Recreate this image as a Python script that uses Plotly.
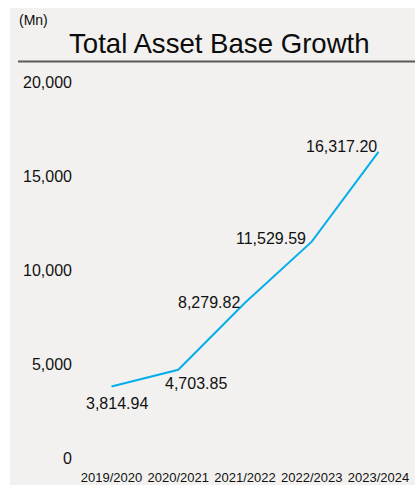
import plotly.graph_objects as go

# Financial years and total asset base (Mn)
years = ["2019/2020", "2020/2021", "2021/2022", "2022/2023", "2023/2024"]
assets = [3814.94, 4703.85, 8279.82, 11529.59, 16317.20]
value_labels = ["3,814.94", "4,703.85", "8,279.82", "11,529.59", "16,317.20"]
y_ticks = [0, 5000, 10000, 15000, 20000]
y_tick_text = ["0", "5,000", "10,000", "15,000", "20,000"]

# Per-label pixel offsets from their points
label_dx = [5, 18, -36, -41, -37]
label_dy = [-17, -14, 0, 3, 5]

W, H = 415, 486
L, R, T, B = 80, 10, 70, 28
PW, PH = W - L - R, H - T - B

def px(x):
    return (x - L) / PW

def py(y):
    return (H - B - y) / PH

FONT = "Liberation Sans, Arial, sans-serif"
INK = "#111111"
BLUE = "#06aeec"

fig = go.Figure()
fig.add_trace(go.Scatter(
    x=list(range(len(years))), y=assets, mode="lines",
    line=dict(color=BLUE, width=2), hoverinfo="skip", showlegend=False,
))

annotations = []
for i, (v, t) in enumerate(zip(assets, value_labels)):
    annotations.append(dict(
        x=i, y=v, xref="x", yref="y", text=t, showarrow=False,
        xshift=label_dx[i], yshift=label_dy[i],
        font=dict(family=FONT, size=16, color=INK),
    ))

annotations.append(dict(
    x=px(67), y=py(43), xref="paper", yref="paper", xanchor="left", yanchor="middle",
    text="Total Asset Base Growth", showarrow=False,
    font=dict(family=FONT, size=27.6, color="#0c0c0c"),
))
annotations.append(dict(
    x=px(17), y=py(20), xref="paper", yref="paper", xanchor="left", yanchor="middle",
    text="(Mn)", showarrow=False,
    font=dict(family=FONT, size=14, color="#0c0c0c"),
))

shapes = [
    dict(type="rect", xref="paper", yref="paper", layer="below",
         x0=px(10), x1=px(W + 2), y0=py(485), y1=py(8),
         fillcolor="#f2f1ef", line=dict(width=0)),
    dict(type="line", xref="paper", yref="paper",
         x0=px(18), x1=px(W + 2), y0=py(61.5), y1=py(61.5),
         line=dict(color="#5a5a5a", width=2)),
]

fig.update_layout(
    width=W, height=H,
    margin=dict(l=L, r=R, t=T, b=B, pad=0, autoexpand=False),
    paper_bgcolor="white", plot_bgcolor="rgba(0,0,0,0)",
    annotations=annotations, shapes=shapes, showlegend=False,
    xaxis=dict(
        range=[-0.472, 4.397], tickmode="array",
        tickvals=list(range(len(years))), ticktext=years,
        showgrid=False, zeroline=False, showline=False, ticks="",
        tickangle=0, automargin=False,
        ticklabelstandoff=10,
        tickfont=dict(family=FONT, size=13, color=INK),
        fixedrange=True,
    ),
    yaxis=dict(
        range=[0, PH / 18.76 * 1000], tickmode="array",
        tickvals=y_ticks, ticktext=y_tick_text,
        showgrid=False, zeroline=False, showline=False, ticks="",
        automargin=False,
        ticklabelstandoff=7,
        tickfont=dict(family=FONT, size=16, color=INK),
        fixedrange=True,
    ),
)

fig.write_html("out.html", config={"displayModeBar": False})
